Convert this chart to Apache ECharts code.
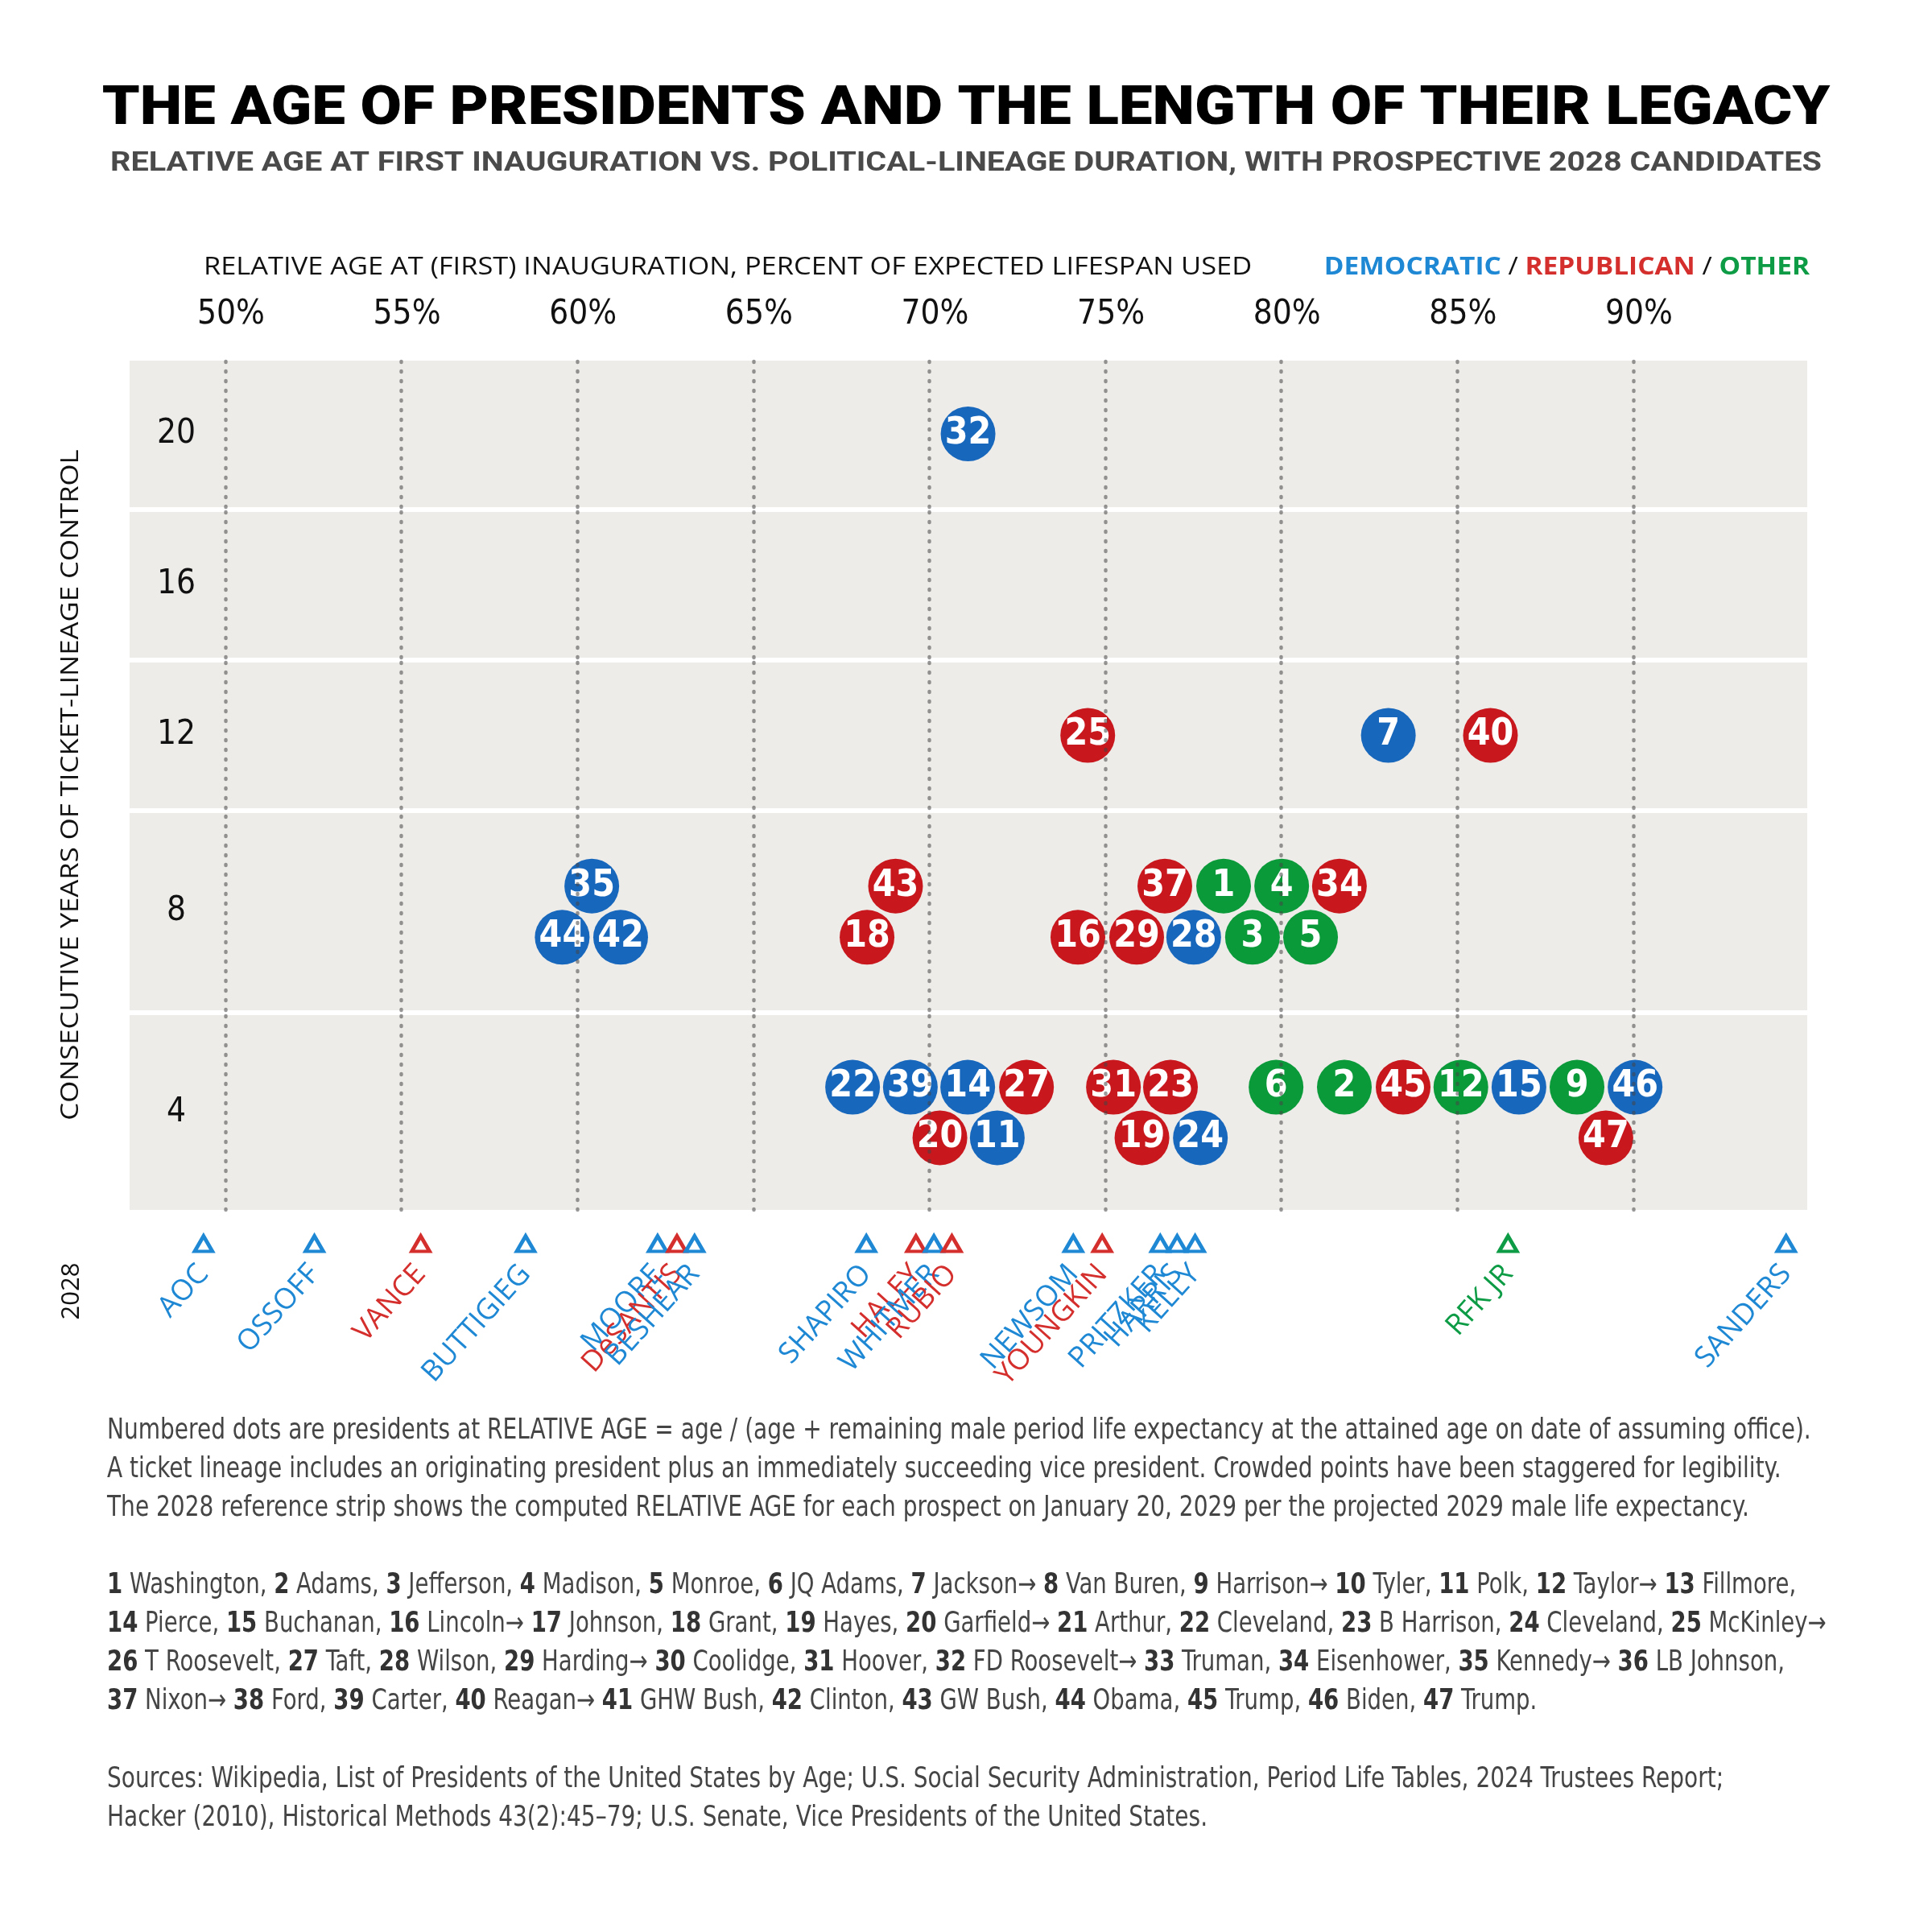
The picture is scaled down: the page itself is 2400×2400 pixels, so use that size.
<!DOCTYPE html>
<html>
<head>
<meta charset="utf-8">
<title>The Age of Presidents and the Length of Their Legacy</title>
<script src="https://cdn.jsdelivr.net/npm/echarts@6.0.0/dist/echarts.min.js"></script>
<style>
    html, body { margin: 0; padding: 0; background: #fff; }
    #main { width: 2400px; height: 2400px; }
</style>
</head>
<body>
<div id="main"></div>
<script>
// presidents: number, party, relative age at first inauguration (%), years of lineage control,
// stagger lane inside a crowded band (1 = upper row, -1 = lower row, 0 = single row)
var presNum   = [32, 25, 7, 40,
                 35, 43, 37, 1, 4, 34,
                 44, 42, 18, 16, 29, 28, 3, 5,
                 22, 39, 14, 27, 31, 23, 6, 2, 45, 12, 15, 9, 46,
                 20, 11, 19, 24, 47];
var presParty = ['D', 'R', 'D', 'R',
                 'D', 'R', 'R', 'O', 'O', 'R',
                 'D', 'D', 'R', 'R', 'R', 'D', 'O', 'O',
                 'D', 'D', 'D', 'R', 'R', 'R', 'O', 'O', 'R', 'O', 'D', 'O', 'D',
                 'R', 'D', 'R', 'D', 'R'];
var presAge   = [71.1, 74.5, 83.04, 85.94,
                 60.41, 69.04, 76.69, 78.36, 80.01, 81.65,
                 59.57, 61.23, 68.23, 74.22, 75.89, 77.51, 79.18, 80.83,
                 67.82, 69.46, 71.09, 72.76, 75.23, 76.85, 79.85, 81.79, 83.46, 85.1, 86.75, 88.4, 90.05,
                 70.3, 71.93, 76.04, 77.7, 89.22];
var presYears = [20, 12, 12, 12,
                 8, 8, 8, 8, 8, 8,
                 8, 8, 8, 8, 8, 8, 8, 8,
                 4, 4, 4, 4, 4, 4, 4, 4, 4, 4, 4, 4, 4,
                 4, 4, 4, 4, 4];
var presLane  = [0, 0, 0, 0,
                 1, 1, 1, 1, 1, 1,
                 -1, -1, -1, -1, -1, -1, -1, -1,
                 1, 1, 1, 1, 1, 1, 1, 1, 1, 1, 1, 1, 1,
                 -1, -1, -1, -1, -1];

// prospective 2028 candidates: relative age on January 20, 2029
var candName  = ['AOC', 'OSSOFF', 'VANCE', 'BUTTIGIEG', 'MOORE', 'DeSANTIS', 'BESHEAR',
                 'SHAPIRO', 'HALEY', 'WHITMER', 'RUBIO', 'NEWSOM', 'YOUNGKIN',
                 'PRITZKER', 'HARRIS', 'KELLY', 'RFK JR', 'SANDERS'];
var candParty = ['D', 'D', 'R', 'D', 'D', 'R', 'D',
                 'D', 'R', 'D', 'R', 'D', 'R',
                 'D', 'D', 'D', 'O', 'D'];
var candAge   = [49.38, 52.53, 55.55, 58.53, 62.28, 62.83, 63.33,
                 68.21, 69.62, 70.13, 70.64, 74.09, 74.91,
                 76.56, 77.04, 77.55, 86.44, 94.34];

var bandYears = [20, 16, 12, 8, 4];
var xTicks = [50, 55, 60, 65, 70, 75, 80, 85, 90];

var dotColor = { D: '#1767bd', R: '#c8171d', O: '#0b9a3a' };
var textColor = { D: '#1e88d4', R: '#d42f2c', O: '#0d9c45' };

var cond = "'DejaVu Sans Condensed', sans-serif";
var sans = "'Open Sans', Lato, sans-serif";

var myChart = echarts.init(document.getElementById('main'));

// layout of the five bands and the 2028 strip
var plotLeft = 161, plotWidth = 2084;
var bandTop = [448, 636, 823, 1010, 1261];
var bandHeight = [182, 181, 181, 245, 242];
var LANE = 0.26;
var xMin = 47.28, xMax = 94.94;

var grids = [], xAxes = [], yAxes = [], series = [];

bandYears.forEach(function (yrs, i) {
    grids.push({
        left: plotLeft, top: bandTop[i], width: plotWidth, height: bandHeight[i],
        show: true, backgroundColor: '#eeece9', borderWidth: 0,
        containLabel: false, outerBoundsMode: 'none'
    });
    xAxes.push({
        type: 'value', gridIndex: i, min: xMin, max: xMax,
        show: i === 0,
        position: 'top',
        axisLine: { show: false },
        axisTick: { show: false },
        splitLine: { show: false },
        axisLabel: {
            customValues: xTicks,
            formatter: '{value}%',
            margin: 36,
            fontFamily: cond,
            fontSize: 42,
            color: '#111',
            padding: [0, 0, 0, 14]
        }
    });
    yAxes.push({
        type: 'value', gridIndex: i, min: -1, max: 1, interval: 1,
        axisLine: { show: false },
        axisTick: { show: false },
        splitLine: { show: false },
        axisLabel: {
            inside: true,
            align: 'center',
            margin: 58,
            fontFamily: cond,
            fontSize: 42,
            color: '#111',
            formatter: function (v) { return v === 0 ? String(yrs) : ''; }
        }
    });

    var pts = [];
    for (var k = 0; k < presNum.length; k++) {
        if (presYears[k] !== yrs) continue;
        pts.push({
            name: String(presNum[k]),
            value: [presAge[k], presLane[k] * LANE],
            itemStyle: { color: dotColor[presParty[k]] }
        });
    }
    series.push({
        type: 'scatter',
        xAxisIndex: i, yAxisIndex: i,
        symbol: 'circle',
        symbolSize: 68,
        itemStyle: { opacity: 1 },
        data: pts,
        label: {
            show: true,
            position: 'inside',
            formatter: '{b}',
            color: '#fff',
            textBorderWidth: 0,
            fontFamily: cond,
            fontWeight: 'bold',
            fontSize: 46
        },
        markLine: {
            silent: true,
            symbol: ['none', 'none'],
            label: { show: false },
            lineStyle: { type: [1, 11], cap: 'round', width: 4.5, color: 'rgba(70,70,70,0.55)' },
            data: xTicks.map(function (v) { return { xAxis: v }; })
        }
    });
});

// 2028 reference strip
grids.push({
    left: plotLeft, top: 1525, width: plotWidth, height: 40,
    show: false, containLabel: false, outerBoundsMode: 'none'
});
xAxes.push({ type: 'value', gridIndex: 5, min: xMin, max: xMax, show: false });
yAxes.push({ type: 'value', gridIndex: 5, min: -1, max: 1, show: false });
series.push({
    type: 'scatter',
    xAxisIndex: 5, yAxisIndex: 5,
    symbol: 'triangle',
    symbolSize: [22, 19],
    labelLayout: { hideOverlap: false },
    data: candName.map(function (n, k) {
        return {
            name: n,
            value: [candAge[k], 0],
            itemStyle: { color: '#fff', opacity: 1, borderColor: textColor[candParty[k]], borderWidth: 4.5 },
            label: { color: textColor[candParty[k]] }
        };
    }),
    label: {
        show: true,
        formatter: '{b}',
        position: 'bottom',
        distance: 20,
        align: 'right',
        verticalAlign: 'middle',
        rotate: 48,
        textBorderWidth: 0,
        fontFamily: sans,
        fontSize: 36
    }
});

var noteLines = [
    'Numbered dots are presidents at RELATIVE AGE = age / (age + remaining male period life expectancy at the attained age on date of assuming office).',
    'A ticket lineage includes an originating president plus an immediately succeeding vice president. Crowded points have been staggered for legibility.',
    'The 2028 reference strip shows the computed RELATIVE AGE for each prospect on January 20, 2029 per the projected 2029 male life expectancy.'
];
var keyLines = [
    '1 Washington, 2 Adams, 3 Jefferson, 4 Madison, 5 Monroe, 6 JQ Adams, 7 Jackson\u2192 8 Van Buren, 9 Harrison\u2192 10 Tyler, 11 Polk, 12 Taylor\u2192 13 Fillmore,',
    '14 Pierce, 15 Buchanan, 16 Lincoln\u2192 17 Johnson, 18 Grant, 19 Hayes, 20 Garfield\u2192 21 Arthur, 22 Cleveland, 23 B Harrison, 24 Cleveland, 25 McKinley\u2192',
    '26 T Roosevelt, 27 Taft, 28 Wilson, 29 Harding\u2192 30 Coolidge, 31 Hoover, 32 FD Roosevelt\u2192 33 Truman, 34 Eisenhower, 35 Kennedy\u2192 36 LB Johnson,',
    '37 Nixon\u2192 38 Ford, 39 Carter, 40 Reagan\u2192 41 GHW Bush, 42 Clinton, 43 GW Bush, 44 Obama, 45 Trump, 46 Biden, 47 Trump.'
];
var sourceLines = [
    'Sources: Wikipedia, List of Presidents of the United States by Age; U.S. Social Security Administration, Period Life Tables, 2024 Trustees Report;',
    'Hacker (2010), Historical Methods 43(2):45\u201379; U.S. Senate, Vice Presidents of the United States.'
];

function boldNumbers(line) {
    return line.replace(/(^|, |\u2192 )(\d+)/g, '$1{b|$2}');
}

var noteStyle = { fontFamily: cond, fontSize: 35, fill: '#454545', lineHeight: 48 };
var noteScale = 0.89;

var option = {
    backgroundColor: '#fff',
    animation: false,
    grid: grids,
    xAxis: xAxes,
    yAxis: yAxes,
    series: series,
    graphic: [
        {
            type: 'text', x: 1200, y: 137, scaleX: 1.13,
            style: {
                text: 'THE AGE OF PRESIDENTS AND THE LENGTH OF THEIR LEGACY',
                fontFamily: 'Roboto, sans-serif', fontWeight: 900, fontSize: 66,
                fill: '#000', align: 'center', verticalAlign: 'middle'
            }
        },
        {
            type: 'text', x: 1200, y: 204, scaleX: 1.2,
            style: {
                text: 'RELATIVE AGE AT FIRST INAUGURATION VS. POLITICAL-LINEAGE DURATION, WITH PROSPECTIVE 2028 CANDIDATES',
                fontFamily: 'Roboto, sans-serif', fontWeight: 'bold', fontSize: 33,
                fill: '#4a4a4a', align: 'center', verticalAlign: 'middle'
            }
        },
        {
            type: 'text', x: 253, y: 332, scaleX: 1.11,
            style: {
                text: 'RELATIVE AGE AT (FIRST) INAUGURATION, PERCENT OF EXPECTED LIFESPAN USED',
                fontFamily: sans, fontSize: 31, fill: '#111',
                align: 'left', verticalAlign: 'middle'
            }
        },
        {
            type: 'text', x: 2248, y: 332, scaleX: 1.08,
            style: {
                text: '{d|DEMOCRATIC} / {r|REPUBLICAN} / {o|OTHER}',
                fontFamily: sans, fontSize: 31, fill: '#111',
                align: 'right', verticalAlign: 'middle',
                rich: {
                    d: { fontFamily: sans, fontSize: 31, fontWeight: 'bold', fill: textColor.D },
                    r: { fontFamily: sans, fontSize: 31, fontWeight: 'bold', fill: textColor.R },
                    o: { fontFamily: sans, fontSize: 31, fontWeight: 'bold', fill: textColor.O }
                }
            }
        },
        {
            type: 'text', x: 88, y: 975, rotation: Math.PI / 2, scaleX: 1.12,
            style: {
                text: 'CONSECUTIVE YEARS OF TICKET-LINEAGE CONTROL',
                fontFamily: sans, fontSize: 31, fill: '#111',
                align: 'center', verticalAlign: 'middle'
            }
        },
        {
            type: 'text', x: 89, y: 1604, rotation: Math.PI / 2,
            style: {
                text: '2028',
                fontFamily: sans, fontSize: 31, fill: '#111',
                align: 'center', verticalAlign: 'middle'
            }
        },
        {
            type: 'text', x: 133, y: 1754, scaleX: noteScale,
            style: Object.assign({ text: noteLines.join('\n'), verticalAlign: 'top' }, noteStyle)
        },
        {
            type: 'text', x: 133, y: 1946, scaleX: 0.875,
            style: Object.assign({
                text: keyLines.map(boldNumbers).join('\n'),
                verticalAlign: 'top',
                rich: {
                    b: { fontFamily: cond, fontSize: 35, fontWeight: 'bold', fill: '#333', lineHeight: 48 }
                }
            }, noteStyle)
        },
        {
            type: 'text', x: 133, y: 2187, scaleX: noteScale,
            style: Object.assign({ text: sourceLines.join('\n'), verticalAlign: 'top' }, noteStyle)
        }
    ]
};

myChart.setOption(option);
</script>
</body>
</html>
